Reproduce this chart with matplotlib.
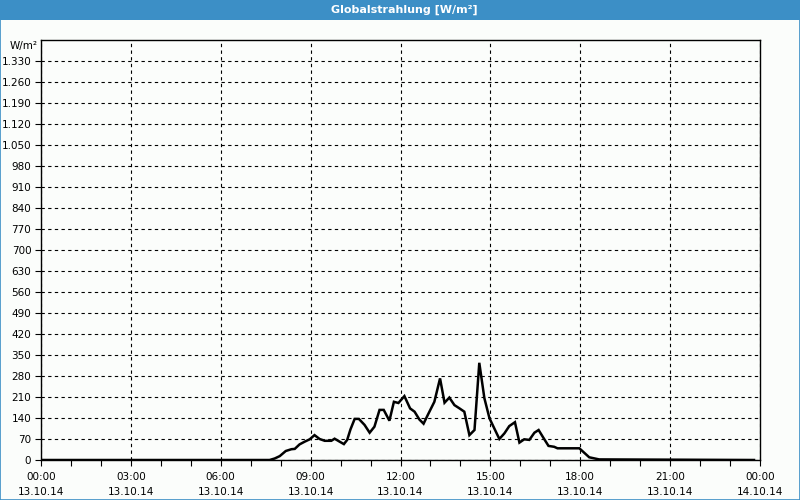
import matplotlib
matplotlib.use("Agg")
import matplotlib.pyplot as plt
from matplotlib.patches import Rectangle
from matplotlib.ticker import FixedLocator, MultipleLocator

# Messzeitpunkte (Stunden ab 13.10.14 00:00) und Globalstrahlung [W/m²]
hours = [0.0, 7.63, 7.8, 7.97, 8.17, 8.36, 8.47, 8.63, 8.8, 8.97, 9.13, 9.3,
         9.47, 9.69, 9.8, 9.97, 10.11, 10.22, 10.33, 10.47, 10.61, 10.8,
         10.97, 11.13, 11.3, 11.44, 11.63, 11.78, 11.93, 12.13, 12.32,
         12.47, 12.63, 12.77, 12.91, 13.13, 13.32, 13.47, 13.63, 13.8,
         13.97, 14.13, 14.3, 14.47, 14.63, 14.8, 14.97, 15.3, 15.47, 15.63,
         15.82, 15.97, 16.13, 16.3, 16.47, 16.61, 16.77, 16.94, 17.13,
         17.24, 17.97, 18.3, 18.63, 23.8]
watts = [0, 0, 5, 13, 30, 36, 37, 52, 61, 69, 83, 70,
         64, 64, 71, 61, 53, 67, 102, 137, 137, 117,
         91, 111, 167, 167, 131, 194, 190, 213, 172,
         161, 135, 121, 150, 194, 272, 191, 208, 183,
         172, 161, 83, 100, 324, 206, 139, 70, 89, 113,
         126, 58, 69, 67, 91, 100, 74, 47, 44,
         39, 39, 9, 2, 0]

y_ticks = list(range(0, 1331, 70))
x_ticks = list(range(0, 25, 3))
x_labels = [f"{h % 24:02d}:00\n{'14' if h == 24 else '13'}.10.14" for h in x_ticks]

BLUE = "#3c8fc6"
BG = "#fbfdfb"

fig = plt.figure(figsize=(8, 5), dpi=100, facecolor=BG)

# Titelleiste + Rahmen
fig.patches.append(Rectangle((0, 1 - 20 / 500), 1, 20 / 500, transform=fig.transFigure,
                             facecolor=BLUE, edgecolor="none", zorder=0))
fig.patches.append(Rectangle((0.0006, 0.001), 0.9988, 0.998, transform=fig.transFigure,
                             facecolor="none", edgecolor=BLUE, linewidth=1.2, zorder=5))
fig.text(0.505, 1 - 10 / 500, "Globalstrahlung [W/m²]", color="white", fontsize=8,
         fontweight="bold", ha="center", va="center")

ax = fig.add_axes([41 / 800, 1 - 460 / 500, 719 / 800, 420 / 500])
ax.set_facecolor(BG)
ax.plot(hours, watts, color="black", linewidth=1.8, solid_joinstyle="miter", zorder=3)

ax.set_xlim(0, 24)
ax.set_ylim(0, 1400)
ax.yaxis.set_major_locator(FixedLocator(y_ticks))
ax.set_yticklabels([f"{v:,}".replace(",", ".") for v in y_ticks])
ax.set_xticks(x_ticks)
ax.set_xticklabels(x_labels, linespacing=1.6)
ax.xaxis.set_minor_locator(MultipleLocator(1))

ax.grid(True, which="major", color="black", linestyle=(0, (3, 3)), linewidth=0.8)
ax.tick_params(axis="both", which="major", labelsize=7.5, length=4, width=0.8, color="black")
ax.tick_params(axis="x", which="minor", length=4, width=0.8)
ax.tick_params(axis="y", pad=3)
ax.tick_params(axis="x", pad=5)
for s in ax.spines.values():
    s.set_linewidth(1)
    s.set_color("black")

fig.text(10 / 800, 1 - 46 / 500, "W/m²", fontsize=7.5, ha="left", va="center")

fig.savefig("out.png", dpi=100, facecolor=BG)
